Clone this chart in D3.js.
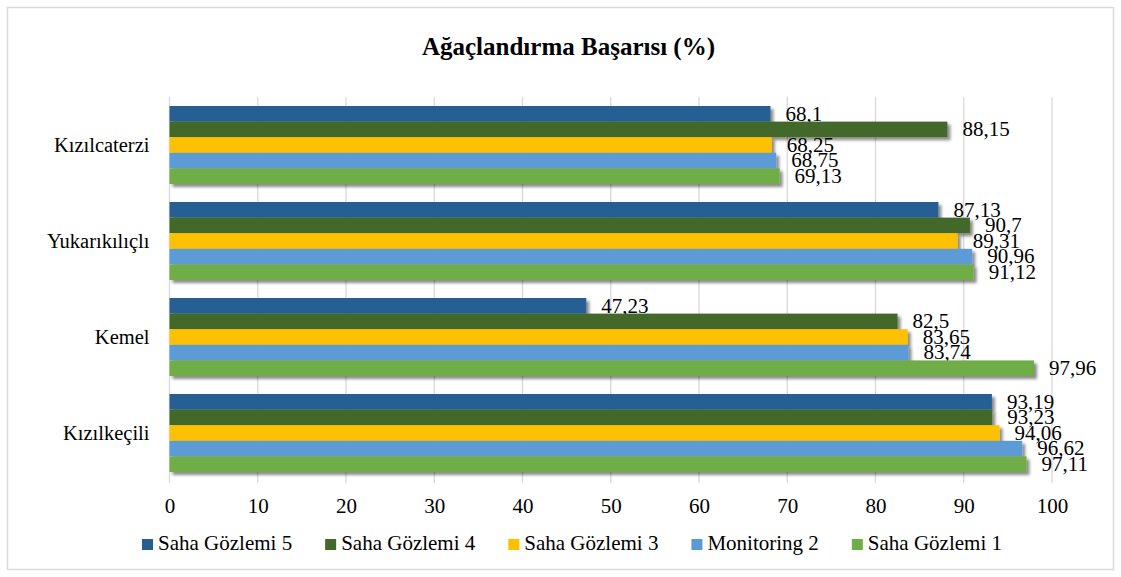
<!DOCTYPE html>
<html>
<head>
<meta charset="utf-8">
<script src="https://cdn.jsdelivr.net/npm/d3@7"></script>
<style>
  body { margin: 0; background: #fff; }
  svg text { font-family: "Liberation Serif", "Times New Roman", serif; fill: #000; }
</style>
</head>
<body>
<div id="chart"></div>
<script>
// categories top to bottom, as in the picture
var categories = ["Kızılcaterzi", "Yukarıkılıçlı", "Kemel", "Kızılkeçili"];
// series top to bottom inside each group
var series = ["Saha Gözlemi 5", "Saha Gözlemi 4", "Saha Gözlemi 3", "Monitoring 2", "Saha Gözlemi 1"];
var colors = ["#255e91", "#43682b", "#ffc000", "#5b9bd5", "#70ad47"];

var saha5 = [68.1, 87.13, 47.23, 93.19];
var saha4 = [88.15, 90.7, 82.5, 93.23];
var saha3 = [68.25, 89.31, 83.65, 94.06];
var monitoring2 = [68.75, 90.96, 83.74, 96.62];
var saha1 = [69.13, 91.12, 97.96, 97.11];

var tickValues = [0, 10, 20, 30, 40, 50, 60, 70, 80, 90, 100];

var values = [saha5, saha4, saha3, monitoring2, saha1];

var width = 1121, height = 577;
var plot = { left: 169.5, right: 1052, top: 97, bottom: 481 };
var serif = "Liberation Serif";

var svg = d3.select("#chart").append("svg")
  .attr("width", width)
  .attr("height", height)
  .attr("font-family", serif);

var defs = svg.append("defs");
var f = defs.append("filter").attr("id", "shadow")
  .attr("x", "-5%").attr("y", "-50%").attr("width", "115%").attr("height", "250%");
f.append("feDropShadow")
  .attr("dx", 3).attr("dy", 3).attr("stdDeviation", 1.5)
  .attr("flood-color", "#000").attr("flood-opacity", 0.45);

// outer border
svg.append("rect")
  .attr("x", 7.5).attr("y", 7.5)
  .attr("width", width - 15).attr("height", height - 15)
  .attr("fill", "#fff").attr("stroke", "#d9d9d9").attr("stroke-width", 1.5);

svg.append("text")
  .attr("x", 568.5).attr("y", 55)
  .attr("text-anchor", "middle")
  .attr("font-family", serif)
  .style("font-size", "25px").style("font-weight", "bold")
  .text("Ağaçlandırma Başarısı (%)");

var x = d3.scaleLinear().domain([0, 100]).range([plot.left, plot.right]);

var y0 = d3.scaleBand().domain(categories).range([plot.top, plot.bottom]);
var y1 = d3.scaleBand().domain(series).range([9, y0.bandwidth() - 9]);

// gridlines
svg.append("g")
  .selectAll("line")
  .data(tickValues)
  .enter().append("line")
  .attr("x1", d => x(d)).attr("x2", d => x(d))
  .attr("y1", plot.top).attr("y2", plot.bottom + 2)
  .attr("stroke", "#d9d9d9").attr("stroke-width", 1.3);

// x axis labels
var xAxis = svg.append("g")
  .attr("transform", "translate(0,498)")
  .call(d3.axisBottom(x).tickValues(tickValues).tickSize(0).tickPadding(0));
xAxis.attr("font-family", serif).attr("font-size", 21);
xAxis.select(".domain").remove();
xAxis.selectAll("text").attr("dy", "0.71em");

// y axis labels
var yAxis = svg.append("g")
  .attr("transform", "translate(" + (plot.left - 20) + ",0)")
  .call(d3.axisLeft(y0).tickSize(0).tickPadding(0));
yAxis.attr("font-family", serif).attr("font-size", 20.5);
yAxis.select(".domain").remove();

var groups = svg.append("g").selectAll("g")
  .data(categories)
  .enter().append("g")
  .attr("transform", d => "translate(0," + y0(d) + ")");

var rows = groups.selectAll("g.bar")
  .data((c, ci) => series.map((s, si) => ({ s: s, si: si, v: values[si][ci] })))
  .enter().append("g").attr("class", "bar");

rows.append("rect")
  .attr("x", x(0))
  .attr("y", d => y1(d.s))
  .attr("width", d => x(d.v) - x(0))
  .attr("height", y1.bandwidth())
  .attr("fill", d => colors[d.si])
  .attr("filter", "url(#shadow)");

rows.append("text")
  .attr("x", d => x(d.v) + 15)
  .attr("y", d => y1(d.s) + y1.bandwidth() / 2)
  .attr("dy", "0.32em")
  .style("font-size", "21px")
  .text(d => String(d.v).replace(".", ","));

// legend
var legend = svg.append("g").attr("transform", "translate(142,544.5)");
var lx = 0;
series.forEach(function (s, i) {
  var item = legend.append("g").attr("transform", "translate(" + lx + ",0)");
  item.append("rect")
    .attr("x", 0).attr("y", -5.5)
    .attr("width", 11).attr("height", 11)
    .attr("fill", colors[i]);
  var t = item.append("text")
    .attr("x", 16).attr("y", 5.5)
    .style("font-size", "21px")
    .text(s);
  lx += 16 + t.node().getComputedTextLength() + 33;
});
</script>
</body>
</html>
